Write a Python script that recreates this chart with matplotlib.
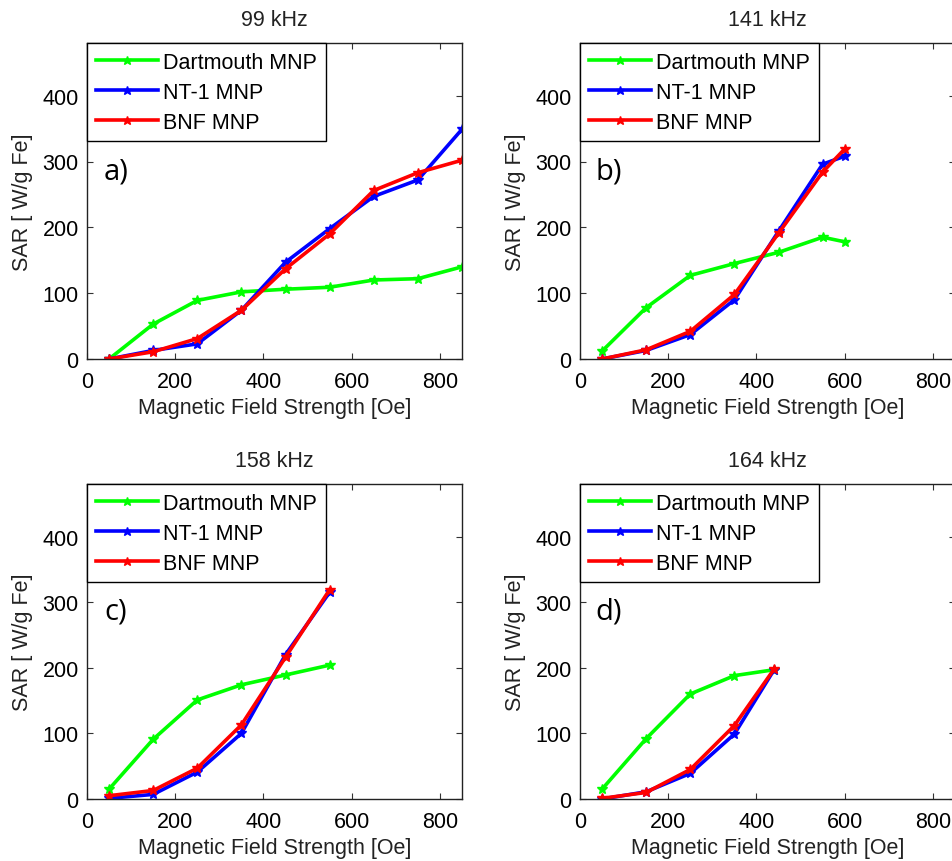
import matplotlib
matplotlib.use("Agg")
import matplotlib.pyplot as plt

plt.rcParams['font.family'] = ['Liberation Sans', 'DejaVu Sans']

# 数据
titles = ['99 kHz', '141 kHz', '158 kHz', '164 kHz']
tags = ['a)', 'b)', 'c)', 'd)']
names = ['Dartmouth MNP', 'NT-1 MNP', 'BNF MNP']
colors = ['#00ff00', '#0000ff', '#ff0000']

x_a = [50, 150, 250, 350, 450, 550, 650, 750, 850]
dart_a = [0, 53, 89, 102, 106, 109, 120, 122, 140]
nt1_a = [0, 13, 23, 74, 147, 198, 247, 272, 349]
bnf_a = [0, 11, 31, 74, 137, 190, 256, 283, 302]

x_b = [50, 150, 250, 350, 450, 550, 600]
dart_b = [12, 78, 127, 145, 162, 185, 178]
nt1_b = [0, 13, 37, 90, 194, 296, 308]
bnf_b = [0, 14, 42, 98, 191, 284, 319]

x_c = [50, 150, 250, 350, 450, 550]
dart_c = [15, 91, 151, 174, 189, 204]
nt1_c = [1, 7, 41, 100, 220, 315]
bnf_c = [5, 13, 47, 113, 216, 319]

x_d = [50, 150, 250, 350, 440]
dart_d = [15, 92, 160, 188, 197]
nt1_d = [0, 11, 39, 99, 197]
bnf_d = [1, 10, 45, 112, 198]

panels = [
    (x_a, [dart_a, nt1_a, bnf_a]),
    (x_b, [dart_b, nt1_b, bnf_b]),
    (x_c, [dart_c, nt1_c, bnf_c]),
    (x_d, [dart_d, nt1_d, bnf_d]),
]

W, H = 952, 862
fig = plt.figure(figsize=(W / 100, H / 100), dpi=100)

# 坐标轴位置（像素：左, 上, 右, 下）
boxes = [(87, 44, 462, 360), (580, 44, 955, 360),
         (87, 485, 462, 800), (580, 485, 955, 800)]

fs = 15.5
for i in range(4):
    l, t, r, b = boxes[i]
    ax = fig.add_axes([l / W, (H - b) / H, (r - l) / W, (b - t) / H])
    xs, ys = panels[i]
    for y, c, n in zip(ys, colors, names):
        ax.plot(xs, y, '-*', color=c, lw=2.6, ms=7, label=n)
    ax.set_xlim(0, 850)
    ax.set_ylim(0, 480)
    ax.set_xticks([0, 200, 400, 600, 800])
    ax.set_yticks([0, 100, 200, 300, 400])
    ax.tick_params(direction='in', top=True, right=True, length=4,
                   labelsize=fs, color='#333333', pad=6)
    ax.tick_params(axis='x', pad=9)
    for s in ax.spines.values():
        s.set_linewidth(1.0)
        s.set_color('#222222')
    ax.set_title(titles[i], fontsize=fs, pad=13, color='#222222')
    ax.set_xlabel('Magnetic Field Strength [Oe]', fontsize=fs, color='#222222', labelpad=3)
    ax.set_ylabel('SAR [ W/g Fe]', fontsize=fs, color='#222222', labelpad=7)
    ax.text(65, 286, tags[i], fontsize=21, color='black',
            family=['Open Sans', 'DejaVu Sans'], ha='center', va='center')
    leg = ax.legend(loc='upper left', bbox_to_anchor=(0, 1), borderaxespad=0,
                    fancybox=False, edgecolor='black', framealpha=1,
                    fontsize=fs, handlelength=2.9, handletextpad=0.25,
                    borderpad=0.4, labelspacing=0.42, markerscale=0.9)
    leg.get_frame().set_linewidth(1.0)

plt.savefig('out.png', dpi=100)
